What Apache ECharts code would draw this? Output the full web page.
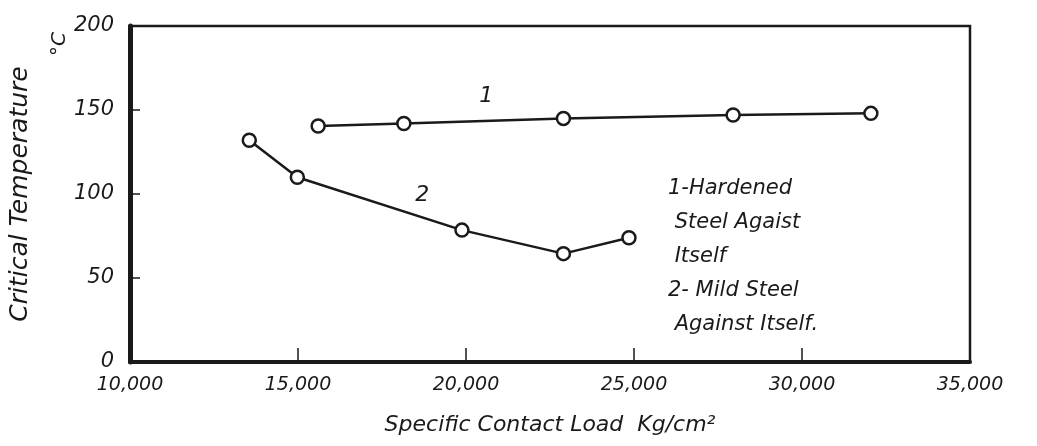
<!DOCTYPE html>
<html><head><meta charset="utf-8">
<script src="https://cdn.jsdelivr.net/npm/echarts@6/dist/echarts.min.js"></script>
<style>html,body{margin:0;padding:0;background:#fff}#c{width:1037px;height:446px}</style>
</head><body><div id="c"></div>
<script>
// Data
const s1Load = [15600, 18150, 22900, 27950, 32050];
const s1Temp = [140.5, 142, 145, 147, 148];
const s2Load = [13550, 14980, 19880, 22900, 24850];
const s2Temp = [132, 110, 78.5, 64.5, 74];
const xTickLabels = ['10,000', '15,000', '20,000', '25,000', '30,000', '35,000'];
const yTickLabels = ['0', '50', '100', '150', '200'];
const legendLines = ['1-Hardened', ' Steel Agaist', ' Itself', '2- Mild Steel', ' Against Itself.'];

const FONT = '"DejaVu Sans", sans-serif';
const ink = '#1a1a1a';
const chart = echarts.init(document.getElementById('c'), null, {renderer: 'canvas'});
const pair = (xs, ys) => xs.map((x, i) => [x, ys[i]]);
const textBase = {fontFamily: FONT, fontStyle: 'italic', color: ink};

chart.setOption({
  backgroundColor: '#fff',
  animation: false,
  grid: {left: 127, right: 67, top: 26, bottom: 84, show: true, borderColor: ink, borderWidth: 2.5, backgroundColor: 'transparent'},
  xAxis: {
    type: 'value', min: 10000, max: 35000, interval: 5000,
    name: 'Specific Contact Load  Kg/cm²', nameLocation: 'middle', nameGap: 52,
    nameTextStyle: Object.assign({}, textBase, {fontSize: 22}),
    axisLine: {lineStyle: {color: ink, width: 4}},
    axisTick: {inside: true, length: 14, lineStyle: {color: ink, width: 1.5}},
    splitLine: {show: false},
    axisLabel: Object.assign({}, textBase, {fontSize: 19, margin: 14,
      formatter: v => xTickLabels[Math.round((v - 10000) / 5000)] || ''})
  },
  yAxis: {
    type: 'value', min: 0, max: 200, interval: 50,
    name: 'Critical Temperature', nameLocation: 'middle', nameGap: 97, nameRotate: 90,
    nameTextStyle: Object.assign({}, textBase, {fontSize: 25}),
    axisLine: {show: true, lineStyle: {color: ink, width: 5}},
    axisTick: {inside: true, length: 10, lineStyle: {color: ink, width: 1.5}},
    splitLine: {show: false},
    axisLabel: Object.assign({}, textBase, {fontSize: 21, margin: 16,
      formatter: v => yTickLabels[Math.round(v / 50)]})
  },
  series: [
    {type: 'line', data: pair(s1Load, s1Temp), symbol: 'circle', symbolSize: 13,
     lineStyle: {color: ink, width: 2.5}, itemStyle: {color: '#fff', borderColor: ink, borderWidth: 2.5},
     markPoint: {symbol: 'circle', symbolSize: 1, itemStyle: {color: 'transparent'},
       label: Object.assign({}, textBase, {show: true, formatter: '1', fontSize: 22, position: 'inside'}),
       data: [{coord: [20600, 158]}]}},
    {type: 'line', data: pair(s2Load, s2Temp), symbol: 'circle', symbolSize: 13,
     lineStyle: {color: ink, width: 2.5}, itemStyle: {color: '#fff', borderColor: ink, borderWidth: 2.5},
     markPoint: {symbol: 'circle', symbolSize: 1, itemStyle: {color: 'transparent'},
       label: Object.assign({}, textBase, {show: true, formatter: '2', fontSize: 22, position: 'inside'}),
       data: [{coord: [18700, 99]}]}}
  ],
  graphic: [
    {type: 'text', left: 668, top: 172, style: {
      fill: ink, text: legendLines.join('\n'), fontFamily: FONT, fontStyle: 'italic', fontSize: 21, lineHeight: 34}},
    {type: 'text', x: 50, y: 56, rotation: Math.PI / 2, style: {
      fill: ink, text: '°C', fontFamily: FONT, fontStyle: 'italic', fontSize: 20}}
  ]
});
</script></body></html>
